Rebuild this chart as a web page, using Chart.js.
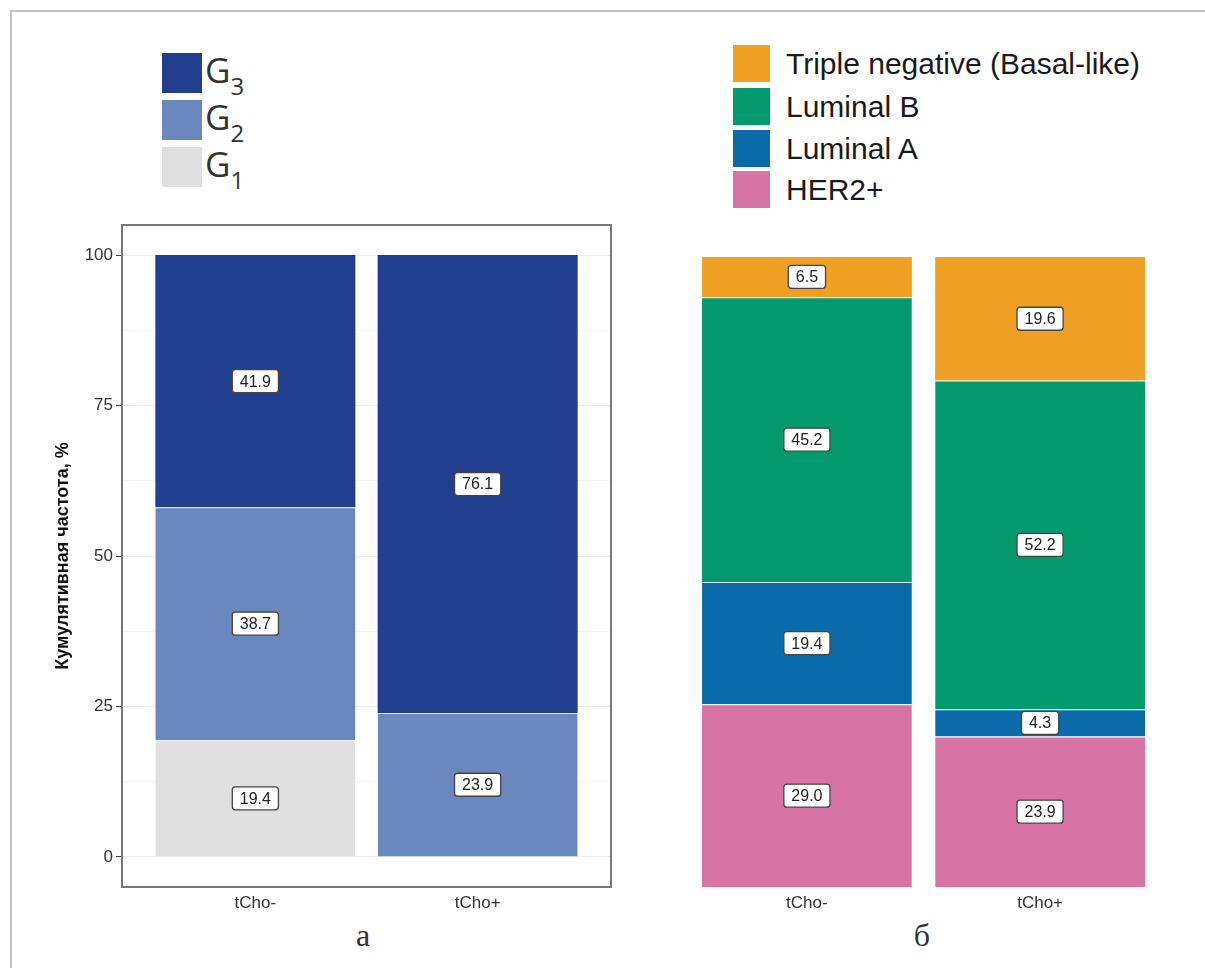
<!DOCTYPE html>
<html>
<head>
<meta charset="utf-8">
<script src="https://cdn.jsdelivr.net/npm/chart.js@4.4.1/dist/chart.umd.min.js"></script>
<style>
  body { margin: 0; background: #fff; width: 1205px; height: 968px; position: relative; overflow: hidden;
         font-family: "Liberation Sans", Arial, sans-serif; }
  #frame { position: absolute; left: 10px; top: 10px; right: -5px; bottom: -5px;
           border-top: 2px solid #c4c4c4; border-left: 2px solid #c4c4c4; }
  canvas { position: absolute; top: 210px; }
  #chartA { left: 0; }
  #chartB { left: 620px; }
  .sq { position: absolute; }
  .gtxt { position: absolute; font-family: "Open Sans", "Noto Sans", sans-serif; font-size: 35px;
          line-height: 40px; color: #333; white-space: nowrap; }
  .gtxt sub { font-size: 24px; vertical-align: -12px; line-height: 0; }
  .stxt { position: absolute; font-size: 30px; line-height: 37px; color: #1a1a1a; white-space: nowrap; }
  .cap { position: absolute; font-family: "Liberation Serif", "DejaVu Serif", serif; font-size: 32px;
         color: #333; transform: translateX(-50%); }
</style>
</head>
<body>
<div id="frame"></div>
<div id="legends"></div>
<canvas id="chartA" width="620" height="707"></canvas>
<canvas id="chartB" width="585" height="707"></canvas>
<div class="cap" style="left:363px; top:917px;">а</div>
<div class="cap" style="left:922px; top:917px;">б</div>

<script>
// categories and values
const categories = ['tCho-', 'tCho+'];

const gradeNames = ['G1', 'G2', 'G3'];
const gradeColors = ['#e0e0e0', '#6a88bd', '#213f8e'];
const g1Values = [19.4, 0];
const g2Values = [38.7, 23.9];
const g3Values = [41.9, 76.1];

const subtypeNames = ['HER2+', 'Luminal A', 'Luminal B', 'Triple negative (Basal-like)'];
const subtypeColors = ['#d874a5', '#0b6aaa', '#039a6e', '#f0a024'];
const her2Values = [29.0, 23.9];
const luminalAValues = [19.4, 4.3];
const luminalBValues = [45.2, 52.2];
const tripleNegValues = [6.5, 19.6];

const yTicks = [0, 25, 50, 75, 100];
const yGrid = [0, 12.5, 25, 37.5, 50, 62.5, 75, 87.5, 100];

const fam = '"Liberation Sans", Arial, sans-serif';

// legends (html)
const leg = document.getElementById('legends');
const gradeTops = [147, 100, 53];
gradeNames.forEach((n, i) => {
    leg.insertAdjacentHTML('beforeend',
        '<div class="sq" style="left:162px;top:' + gradeTops[i] + 'px;width:40px;height:40px;background:' + gradeColors[i] + '"></div>' +
        '<div class="gtxt" style="left:205px;top:' + (gradeTops[i] - 3) + 'px">' + n[0] + '<sub>' + n.slice(1) + '</sub></div>');
});
const subTops = [171, 130, 88, 45];
subtypeNames.forEach((n, i) => {
    leg.insertAdjacentHTML('beforeend',
        '<div class="sq" style="left:733px;top:' + subTops[i] + 'px;width:37px;height:37px;background:' + subtypeColors[i] + '"></div>' +
        '<div class="stxt" style="left:786px;top:' + subTops[i] + 'px">' + n + '</div>');
});

// white boxed value labels in the middle of each segment
const boxLabels = {
    id: 'boxLabels',
    afterDatasetsDraw(chart) {
        const ctx = chart.ctx;
        ctx.save();
        ctx.font = '16px ' + fam;
        ctx.textAlign = 'center';
        ctx.textBaseline = 'middle';
        chart.data.datasets.forEach((ds, i) => {
            chart.getDatasetMeta(i).data.forEach((bar, j) => {
                const v = ds.data[j].y;
                if (!v) return;
                const p = bar.getProps(['x', 'y', 'base'], true);
                const cy = (p.y + p.base) / 2;
                const txt = v.toFixed(1);
                const w = ctx.measureText(txt).width + 15;
                const h = 23;
                ctx.beginPath();
                ctx.roundRect(p.x - w / 2, cy - h / 2, w, h, 3);
                ctx.fillStyle = '#fff';
                ctx.fill();
                ctx.lineWidth = 1.3;
                ctx.strokeStyle = '#444';
                ctx.stroke();
                ctx.fillStyle = '#222';
                ctx.fillText(txt, p.x, cy + 1);
            });
        });
        ctx.restore();
    }
};

const panelBox = {
    id: 'panelBox',
    afterDraw(chart) {
        const a = chart.chartArea;
        const ctx = chart.ctx;
        ctx.save();
        ctx.strokeStyle = '#777';
        ctx.lineWidth = 2;
        ctx.strokeRect(a.left, a.top, a.right - a.left, a.bottom - a.top);
        ctx.restore();
    }
};

function makeSets(names, colors, lists, sep) {
    return names.map((n, k) => ({
        label: n,
        data: lists[k].map((v, i) => ({ x: i + 1, y: v })),
        backgroundColor: colors[k],
        borderColor: sep,
        borderWidth: k < names.length - 1 ? { top: 1, left: 0, right: 0, bottom: 0 } : 0,
        categoryPercentage: 0.9,
        barPercentage: 1
    }));
}

function xScale() {
    return {
        type: 'linear', min: 0.4, max: 2.6, stacked: true, bounds: 'data', offset: false,
        afterBuildTicks: s => { s.ticks = categories.map((c, i) => ({ value: i + 1 })); },
        afterFit: s => { s.height = 30; },
        grid: { display: false, drawTicks: false },
        border: { display: false },
        ticks: {
            callback: v => categories[v - 1],
            padding: 6, color: '#333', maxRotation: 0, autoSkip: false,
            font: { size: 17, family: fam }
        }
    };
}

new Chart(document.getElementById('chartA'), {
    type: 'bar',
    data: { datasets: makeSets(gradeNames, gradeColors, [g1Values, g2Values, g3Values], '#e3e9f5') },
    options: {
        responsive: false,
        animation: false,
        layout: { padding: { left: 52, top: 15, right: 9, bottom: 0 } },
        plugins: { legend: { display: false }, tooltip: { enabled: false } },
        scales: {
            x: xScale(),
            y: {
                min: -5, max: 105, stacked: true,
                afterBuildTicks: s => { s.ticks = yGrid.map(v => ({ value: v })); },
                afterFit: s => { s.width = 70; },
                grid: {
                    color: c => yTicks.includes(c.tick.value) ? '#ececec' : '#f6f6f6',
                    tickColor: c => yTicks.includes(c.tick.value) ? '#444' : 'rgba(0,0,0,0)',
                    tickLength: 6
                },
                border: { display: false },
                ticks: {
                    callback: v => yTicks.includes(v) ? String(v) : '',
                    padding: 3, color: '#333', font: { size: 17, family: fam }
                },
                title: {
                    display: true, text: 'Кумулятивная частота, %', color: '#111', padding: 0,
                    font: { size: 18, weight: 'bold', family: fam }
                }
            }
        }
    },
    plugins: [boxLabels, panelBox]
});

new Chart(document.getElementById('chartB'), {
    type: 'bar',
    data: { datasets: makeSets(subtypeNames, subtypeColors, [her2Values, luminalAValues, luminalBValues, tripleNegValues], '#e8eef8') },
    options: {
        responsive: false,
        animation: false,
        layout: { padding: { left: 47, top: 47, right: 25, bottom: 0 } },
        plugins: { legend: { display: false }, tooltip: { enabled: false } },
        scales: {
            x: xScale(),
            y: { display: false, min: 0, max: 100, stacked: true }
        }
    },
    plugins: [boxLabels]
});
</script>
</body>
</html>
